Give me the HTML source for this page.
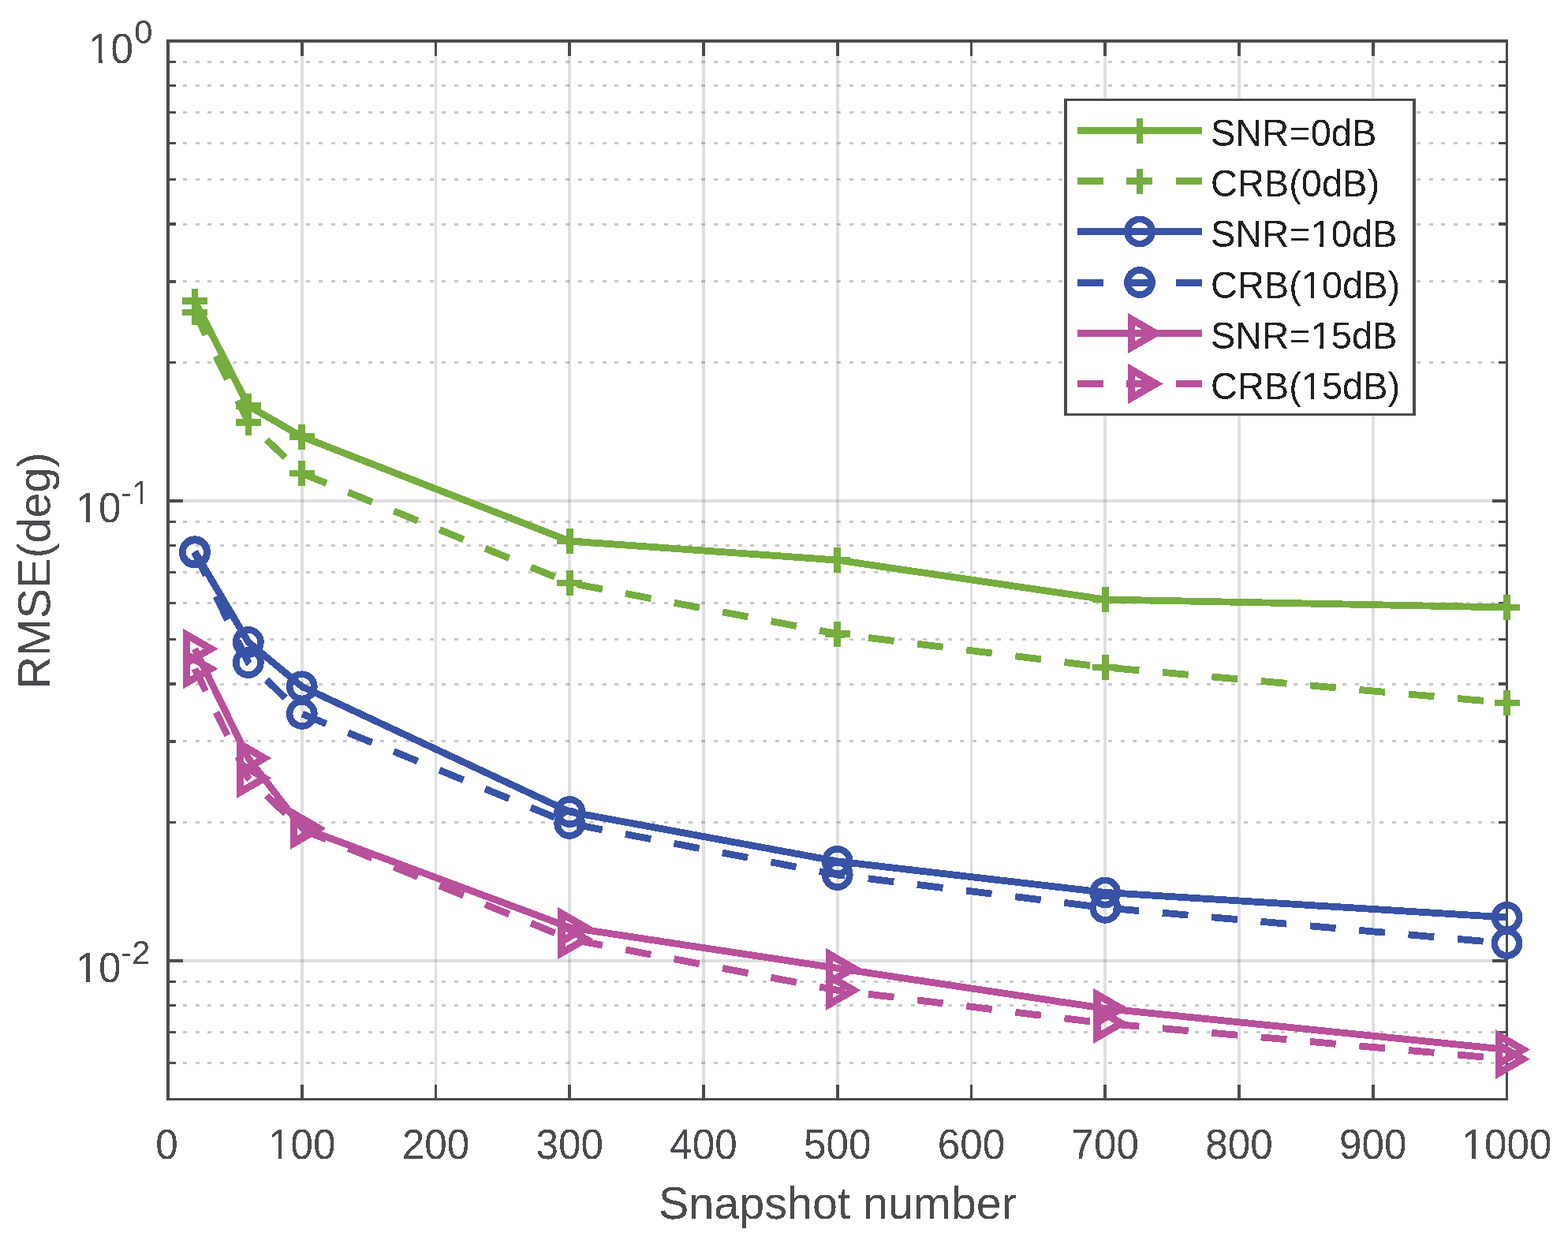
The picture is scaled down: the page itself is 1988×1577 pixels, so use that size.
<!DOCTYPE html><html><head><meta charset="utf-8"><title>RMSE vs Snapshot number</title>
<style>html,body{margin:0;padding:0;background:#fff;}body{width:1988px;height:1577px;overflow:hidden;}svg{display:block;}text{font-family:"Liberation Sans",Arial,Helvetica,sans-serif;}</style></head><body>
<svg width="1988" height="1577" viewBox="0 0 1988 1577">
<rect width="1988" height="1577" fill="#fff"/>
<defs><filter id="alias" x="0" y="0" width="1" height="1" color-interpolation-filters="sRGB"><feComponentTransfer><feFuncA type="discrete" tableValues="0 1"/></feComponentTransfer></filter></defs>
<g shape-rendering="crispEdges">
<rect x="380.80" y="54" width="3.9" height="1338" fill="#26282e" fill-opacity="0.15"/>
<rect x="550.55" y="54" width="3.9" height="1338" fill="#26282e" fill-opacity="0.15"/>
<rect x="720.30" y="54" width="3.9" height="1338" fill="#26282e" fill-opacity="0.15"/>
<rect x="890.05" y="54" width="3.9" height="1338" fill="#26282e" fill-opacity="0.15"/>
<rect x="1059.80" y="54" width="3.9" height="1338" fill="#26282e" fill-opacity="0.15"/>
<rect x="1229.55" y="54" width="3.9" height="1338" fill="#26282e" fill-opacity="0.15"/>
<rect x="1399.30" y="54" width="3.9" height="1338" fill="#26282e" fill-opacity="0.15"/>
<rect x="1569.05" y="54" width="3.9" height="1338" fill="#26282e" fill-opacity="0.15"/>
<rect x="1738.80" y="54" width="3.9" height="1338" fill="#26282e" fill-opacity="0.15"/>
<rect x="215" y="633.25" width="1694" height="3.5" fill="#26282e" fill-opacity="0.15"/>
<rect x="215" y="1216.25" width="1694" height="3.5" fill="#26282e" fill-opacity="0.15"/>
</g>
<g stroke="#26282e" stroke-opacity="0.25" stroke-width="3" stroke-dasharray="5 10.64" fill="none" shape-rendering="crispEdges">
<line x1="216.4" y1="459.50" x2="1909" y2="459.50"/>
<line x1="216.4" y1="356.84" x2="1909" y2="356.84"/>
<line x1="216.4" y1="284.00" x2="1909" y2="284.00"/>
<line x1="216.4" y1="227.50" x2="1909" y2="227.50"/>
<line x1="216.4" y1="181.34" x2="1909" y2="181.34"/>
<line x1="216.4" y1="142.31" x2="1909" y2="142.31"/>
<line x1="216.4" y1="108.50" x2="1909" y2="108.50"/>
<line x1="216.4" y1="78.68" x2="1909" y2="78.68"/>
<line x1="216.4" y1="1042.50" x2="1909" y2="1042.50"/>
<line x1="216.4" y1="939.84" x2="1909" y2="939.84"/>
<line x1="216.4" y1="867.00" x2="1909" y2="867.00"/>
<line x1="216.4" y1="810.50" x2="1909" y2="810.50"/>
<line x1="216.4" y1="764.34" x2="1909" y2="764.34"/>
<line x1="216.4" y1="725.31" x2="1909" y2="725.31"/>
<line x1="216.4" y1="691.50" x2="1909" y2="691.50"/>
<line x1="216.4" y1="661.68" x2="1909" y2="661.68"/>
<line x1="216.4" y1="1393.50" x2="1909" y2="1393.50"/>
<line x1="216.4" y1="1347.34" x2="1909" y2="1347.34"/>
<line x1="216.4" y1="1308.31" x2="1909" y2="1308.31"/>
<line x1="216.4" y1="1274.50" x2="1909" y2="1274.50"/>
<line x1="216.4" y1="1244.68" x2="1909" y2="1244.68"/>
</g>
<g fill="#4a4b4e" shape-rendering="crispEdges">
<rect x="380.85" y="54" width="3.8" height="17"/>
<rect x="380.85" y="1375" width="3.8" height="17"/>
<rect x="550.60" y="54" width="3.8" height="17"/>
<rect x="550.60" y="1375" width="3.8" height="17"/>
<rect x="720.35" y="54" width="3.8" height="17"/>
<rect x="720.35" y="1375" width="3.8" height="17"/>
<rect x="890.10" y="54" width="3.8" height="17"/>
<rect x="890.10" y="1375" width="3.8" height="17"/>
<rect x="1059.85" y="54" width="3.8" height="17"/>
<rect x="1059.85" y="1375" width="3.8" height="17"/>
<rect x="1229.60" y="54" width="3.8" height="17"/>
<rect x="1229.60" y="1375" width="3.8" height="17"/>
<rect x="1399.35" y="54" width="3.8" height="17"/>
<rect x="1399.35" y="1375" width="3.8" height="17"/>
<rect x="1569.10" y="54" width="3.8" height="17"/>
<rect x="1569.10" y="1375" width="3.8" height="17"/>
<rect x="1738.85" y="54" width="3.8" height="17"/>
<rect x="1738.85" y="1375" width="3.8" height="17"/>
<rect x="215" y="633.25" width="17" height="3.5"/>
<rect x="1892" y="633.25" width="17" height="3.5"/>
<rect x="215" y="1216.25" width="17" height="3.5"/>
<rect x="1892" y="1216.25" width="17" height="3.5"/>
<rect x="215" y="457.75" width="8" height="3.5"/>
<rect x="1900" y="457.75" width="9" height="3.5"/>
<rect x="215" y="355.09" width="8" height="3.5"/>
<rect x="1900" y="355.09" width="9" height="3.5"/>
<rect x="215" y="282.25" width="8" height="3.5"/>
<rect x="1900" y="282.25" width="9" height="3.5"/>
<rect x="215" y="225.75" width="8" height="3.5"/>
<rect x="1900" y="225.75" width="9" height="3.5"/>
<rect x="215" y="179.59" width="8" height="3.5"/>
<rect x="1900" y="179.59" width="9" height="3.5"/>
<rect x="215" y="140.56" width="8" height="3.5"/>
<rect x="1900" y="140.56" width="9" height="3.5"/>
<rect x="215" y="106.75" width="8" height="3.5"/>
<rect x="1900" y="106.75" width="9" height="3.5"/>
<rect x="215" y="76.93" width="8" height="3.5"/>
<rect x="1900" y="76.93" width="9" height="3.5"/>
<rect x="215" y="1040.75" width="8" height="3.5"/>
<rect x="1900" y="1040.75" width="9" height="3.5"/>
<rect x="215" y="938.09" width="8" height="3.5"/>
<rect x="1900" y="938.09" width="9" height="3.5"/>
<rect x="215" y="865.25" width="8" height="3.5"/>
<rect x="1900" y="865.25" width="9" height="3.5"/>
<rect x="215" y="808.75" width="8" height="3.5"/>
<rect x="1900" y="808.75" width="9" height="3.5"/>
<rect x="215" y="762.59" width="8" height="3.5"/>
<rect x="1900" y="762.59" width="9" height="3.5"/>
<rect x="215" y="723.56" width="8" height="3.5"/>
<rect x="1900" y="723.56" width="9" height="3.5"/>
<rect x="215" y="689.75" width="8" height="3.5"/>
<rect x="1900" y="689.75" width="9" height="3.5"/>
<rect x="215" y="659.93" width="8" height="3.5"/>
<rect x="1900" y="659.93" width="9" height="3.5"/>
<rect x="215" y="1391.75" width="8" height="3.5"/>
<rect x="1900" y="1391.75" width="9" height="3.5"/>
<rect x="215" y="1345.59" width="8" height="3.5"/>
<rect x="1900" y="1345.59" width="9" height="3.5"/>
<rect x="215" y="1306.56" width="8" height="3.5"/>
<rect x="1900" y="1306.56" width="9" height="3.5"/>
<rect x="215" y="1272.75" width="8" height="3.5"/>
<rect x="1900" y="1272.75" width="9" height="3.5"/>
<rect x="215" y="1242.93" width="8" height="3.5"/>
<rect x="1900" y="1242.93" width="9" height="3.5"/>
<rect x="211" y="50" width="1701" height="4"/>
<rect x="211" y="1392" width="1701" height="3"/>
<rect x="211" y="50" width="4" height="1345"/>
<rect x="1909" y="50" width="3" height="1345"/>
</g>
<g shape-rendering="crispEdges">
<polyline points="246.95,381.50 314.85,514.50 382.75,553.50 722.25,686.00 1061.75,710.00 1401.25,760.00 1910.50,770.00" fill="none" stroke="#75ad3f" stroke-width="8.8" stroke-linejoin="bevel" stroke-linecap="butt"/>
<path d="M230.95 377.20h32.00v8.60h-32.00zM242.65 365.50h8.60v32.00h-8.60z" fill="#75ad3f"/>
<path d="M298.85 510.20h32.00v8.60h-32.00zM310.55 498.50h8.60v32.00h-8.60z" fill="#75ad3f"/>
<path d="M366.75 549.20h32.00v8.60h-32.00zM378.45 537.50h8.60v32.00h-8.60z" fill="#75ad3f"/>
<path d="M706.25 681.70h32.00v8.60h-32.00zM717.95 670.00h8.60v32.00h-8.60z" fill="#75ad3f"/>
<path d="M1045.75 705.70h32.00v8.60h-32.00zM1057.45 694.00h8.60v32.00h-8.60z" fill="#75ad3f"/>
<path d="M1385.25 755.70h32.00v8.60h-32.00zM1396.95 744.00h8.60v32.00h-8.60z" fill="#75ad3f"/>
<path d="M1894.50 765.70h32.00v8.60h-32.00zM1906.20 754.00h8.60v32.00h-8.60z" fill="#75ad3f"/>
<polyline points="246.95,396.00 314.85,535.50 382.75,600.00 722.25,739.00 1061.75,803.50 1401.25,846.00 1910.50,891.00" fill="none" stroke="#75ad3f" stroke-width="8.8" stroke-linejoin="bevel" stroke-linecap="butt" stroke-dasharray="32.8 29.8" stroke-dashoffset="0.8"/>
<path d="M230.95 391.70h32.00v8.60h-32.00zM242.65 380.00h8.60v32.00h-8.60z" fill="#75ad3f"/>
<path d="M298.85 531.20h32.00v8.60h-32.00zM310.55 519.50h8.60v32.00h-8.60z" fill="#75ad3f"/>
<path d="M366.75 595.70h32.00v8.60h-32.00zM378.45 584.00h8.60v32.00h-8.60z" fill="#75ad3f"/>
<path d="M706.25 734.70h32.00v8.60h-32.00zM717.95 723.00h8.60v32.00h-8.60z" fill="#75ad3f"/>
<path d="M1045.75 799.20h32.00v8.60h-32.00zM1057.45 787.50h8.60v32.00h-8.60z" fill="#75ad3f"/>
<path d="M1385.25 841.70h32.00v8.60h-32.00zM1396.95 830.00h8.60v32.00h-8.60z" fill="#75ad3f"/>
<path d="M1894.50 886.70h32.00v8.60h-32.00zM1906.20 875.00h8.60v32.00h-8.60z" fill="#75ad3f"/>
<polyline points="246.95,699.20 314.85,814.00 382.75,870.30 722.25,1029.10 1061.75,1091.90 1401.25,1131.40 1910.50,1163.00" fill="none" stroke="#3853a5" stroke-width="8.8" stroke-linejoin="bevel" stroke-linecap="butt"/>
<circle cx="246.95" cy="699.20" r="15.6" fill="none" stroke="#3853a5" stroke-width="8.6"/>
<circle cx="314.85" cy="814.00" r="15.6" fill="none" stroke="#3853a5" stroke-width="8.6"/>
<circle cx="382.75" cy="870.30" r="15.6" fill="none" stroke="#3853a5" stroke-width="8.6"/>
<circle cx="722.25" cy="1029.10" r="15.6" fill="none" stroke="#3853a5" stroke-width="8.6"/>
<circle cx="1061.75" cy="1091.90" r="15.6" fill="none" stroke="#3853a5" stroke-width="8.6"/>
<circle cx="1401.25" cy="1131.40" r="15.6" fill="none" stroke="#3853a5" stroke-width="8.6"/>
<circle cx="1910.50" cy="1163.00" r="15.6" fill="none" stroke="#3853a5" stroke-width="8.6"/>
<polyline points="246.95,700.60 314.85,840.00 382.75,904.90 722.25,1043.90 1061.75,1109.00 1401.25,1150.80 1910.50,1195.90" fill="none" stroke="#3853a5" stroke-width="8.8" stroke-linejoin="bevel" stroke-linecap="butt" stroke-dasharray="32.8 29.8" stroke-dashoffset="0.8"/>
<circle cx="246.95" cy="700.60" r="15.6" fill="none" stroke="#3853a5" stroke-width="8.6"/>
<circle cx="314.85" cy="840.00" r="15.6" fill="none" stroke="#3853a5" stroke-width="8.6"/>
<circle cx="382.75" cy="904.90" r="15.6" fill="none" stroke="#3853a5" stroke-width="8.6"/>
<circle cx="722.25" cy="1043.90" r="15.6" fill="none" stroke="#3853a5" stroke-width="8.6"/>
<circle cx="1061.75" cy="1109.00" r="15.6" fill="none" stroke="#3853a5" stroke-width="8.6"/>
<circle cx="1401.25" cy="1150.80" r="15.6" fill="none" stroke="#3853a5" stroke-width="8.6"/>
<circle cx="1910.50" cy="1195.90" r="15.6" fill="none" stroke="#3853a5" stroke-width="8.6"/>
<polyline points="246.95,822.50 314.85,961.10 382.75,1049.30 722.25,1175.70 1061.75,1227.40 1401.25,1278.50 1910.50,1330.50" fill="none" stroke="#b8509c" stroke-width="8.8" stroke-linejoin="bevel" stroke-linecap="butt"/>
<polygon points="267.30,822.50 236.77,804.88 236.77,840.12" fill="none" stroke="#b8509c" stroke-width="9.2" stroke-linejoin="miter" stroke-miterlimit="10"/>
<polygon points="335.20,961.10 304.68,943.48 304.68,978.72" fill="none" stroke="#b8509c" stroke-width="9.2" stroke-linejoin="miter" stroke-miterlimit="10"/>
<polygon points="403.10,1049.30 372.57,1031.68 372.57,1066.92" fill="none" stroke="#b8509c" stroke-width="9.2" stroke-linejoin="miter" stroke-miterlimit="10"/>
<polygon points="742.60,1175.70 712.08,1158.08 712.08,1193.32" fill="none" stroke="#b8509c" stroke-width="9.2" stroke-linejoin="miter" stroke-miterlimit="10"/>
<polygon points="1082.10,1227.40 1051.58,1209.78 1051.58,1245.02" fill="none" stroke="#b8509c" stroke-width="9.2" stroke-linejoin="miter" stroke-miterlimit="10"/>
<polygon points="1421.60,1278.50 1391.08,1260.88 1391.08,1296.12" fill="none" stroke="#b8509c" stroke-width="9.2" stroke-linejoin="miter" stroke-miterlimit="10"/>
<polygon points="1930.85,1330.50 1900.33,1312.88 1900.33,1348.12" fill="none" stroke="#b8509c" stroke-width="9.2" stroke-linejoin="miter" stroke-miterlimit="10"/>
<polyline points="246.95,847.80 314.85,986.40 382.75,1051.30 722.25,1190.40 1061.75,1255.30 1401.25,1297.30 1910.50,1342.60" fill="none" stroke="#b8509c" stroke-width="8.8" stroke-linejoin="bevel" stroke-linecap="butt" stroke-dasharray="32.8 29.8" stroke-dashoffset="1.3"/>
<polygon points="267.30,847.80 236.77,830.18 236.77,865.42" fill="none" stroke="#b8509c" stroke-width="9.2" stroke-linejoin="miter" stroke-miterlimit="10"/>
<polygon points="335.20,986.40 304.68,968.78 304.68,1004.02" fill="none" stroke="#b8509c" stroke-width="9.2" stroke-linejoin="miter" stroke-miterlimit="10"/>
<polygon points="403.10,1051.30 372.57,1033.68 372.57,1068.92" fill="none" stroke="#b8509c" stroke-width="9.2" stroke-linejoin="miter" stroke-miterlimit="10"/>
<polygon points="742.60,1190.40 712.08,1172.78 712.08,1208.02" fill="none" stroke="#b8509c" stroke-width="9.2" stroke-linejoin="miter" stroke-miterlimit="10"/>
<polygon points="1082.10,1255.30 1051.58,1237.68 1051.58,1272.92" fill="none" stroke="#b8509c" stroke-width="9.2" stroke-linejoin="miter" stroke-miterlimit="10"/>
<polygon points="1421.60,1297.30 1391.08,1279.68 1391.08,1314.92" fill="none" stroke="#b8509c" stroke-width="9.2" stroke-linejoin="miter" stroke-miterlimit="10"/>
<polygon points="1930.85,1342.60 1900.33,1324.98 1900.33,1360.22" fill="none" stroke="#b8509c" stroke-width="9.2" stroke-linejoin="miter" stroke-miterlimit="10"/>
</g>
<rect x="1349" y="125" width="446" height="402" fill="#fff"/>
<path shape-rendering="crispEdges" fill="#4a4b4e" d="M1349 125H1795V128H1349Z M1349 524H1795V527H1349Z M1349 125H1353V527H1349Z M1791 125H1795V527H1791Z"/>
<g shape-rendering="crispEdges">
<line x1="1366" y1="165.5" x2="1524" y2="165.5" stroke="#75ad3f" stroke-width="9"/>
<path d="M1429.00 161.20h32.00v8.60h-32.00zM1440.70 149.50h8.60v32.00h-8.60z" fill="#75ad3f"/>
<line x1="1366" y1="229.5" x2="1524" y2="229.5" stroke="#75ad3f" stroke-width="9" stroke-dasharray="33 29.45"/>
<path d="M1429.00 225.20h32.00v8.60h-32.00zM1440.70 213.50h8.60v32.00h-8.60z" fill="#75ad3f"/>
<line x1="1366" y1="293.5" x2="1524" y2="293.5" stroke="#3853a5" stroke-width="9"/>
<circle cx="1445.00" cy="293.50" r="15.6" fill="none" stroke="#3853a5" stroke-width="8.6"/>
<line x1="1366" y1="358.0" x2="1524" y2="358.0" stroke="#3853a5" stroke-width="9" stroke-dasharray="33 29.45"/>
<circle cx="1445.00" cy="358.00" r="15.6" fill="none" stroke="#3853a5" stroke-width="8.6"/>
<line x1="1366" y1="422.5" x2="1524" y2="422.5" stroke="#b8509c" stroke-width="9"/>
<polygon points="1465.35,422.50 1434.83,404.88 1434.83,440.12" fill="none" stroke="#b8509c" stroke-width="9.2" stroke-linejoin="miter" stroke-miterlimit="10"/>
<line x1="1366" y1="486.5" x2="1524" y2="486.5" stroke="#b8509c" stroke-width="9" stroke-dasharray="33 29.45"/>
<polygon points="1465.35,486.50 1434.83,468.88 1434.83,504.12" fill="none" stroke="#b8509c" stroke-width="9.2" stroke-linejoin="miter" stroke-miterlimit="10"/>
</g>
<g filter="url(#alias)">
<g transform="translate(197.26 1469.00) scale(1 1.04)"><text x="0" y="0" font-size="51.2" fill="#4a4b4e">0</text></g>
<g transform="translate(340.04 1469.00) scale(1 1.04)"><clipPath id="c5"><path clip-rule="evenodd" d="M-20 -61.4H105.4V25.6H-20ZM2.90 -4.73H12.96V0.90H2.90ZM16.96 -4.73H26.98V0.90H16.96Z"/></clipPath><text x="0" y="0" font-size="51.2" fill="#4a4b4e" clip-path="url(#c5)">100</text></g>
<g transform="translate(509.79 1469.00) scale(1 1.04)"><text x="0" y="0" font-size="51.2" fill="#4a4b4e">200</text></g>
<g transform="translate(679.54 1469.00) scale(1 1.04)"><text x="0" y="0" font-size="51.2" fill="#4a4b4e">300</text></g>
<g transform="translate(849.29 1469.00) scale(1 1.04)"><text x="0" y="0" font-size="51.2" fill="#4a4b4e">400</text></g>
<g transform="translate(1019.04 1469.00) scale(1 1.04)"><text x="0" y="0" font-size="51.2" fill="#4a4b4e">500</text></g>
<g transform="translate(1188.79 1469.00) scale(1 1.04)"><text x="0" y="0" font-size="51.2" fill="#4a4b4e">600</text></g>
<g transform="translate(1358.54 1469.00) scale(1 1.04)"><text x="0" y="0" font-size="51.2" fill="#4a4b4e">700</text></g>
<g transform="translate(1528.29 1469.00) scale(1 1.04)"><text x="0" y="0" font-size="51.2" fill="#4a4b4e">800</text></g>
<g transform="translate(1698.04 1469.00) scale(1 1.04)"><text x="0" y="0" font-size="51.2" fill="#4a4b4e">900</text></g>
<g transform="translate(1853.55 1469.00) scale(1 1.04)"><clipPath id="c6"><path clip-rule="evenodd" d="M-20 -61.4H133.9V25.6H-20ZM2.90 -4.73H12.45V0.90H2.90ZM17.45 -4.73H26.98V0.90H17.45Z"/></clipPath><text x="0" y="0" font-size="51.2" fill="#4a4b4e" clip-path="url(#c6)">1000</text></g>
<g transform="translate(112.10 80.00) scale(1 1.04)"><clipPath id="c7"><path clip-rule="evenodd" d="M-20 -61.4H77.0V25.6H-20ZM2.90 -4.73H12.90V0.90H2.90ZM17.90 -4.73H26.98V0.90H17.90Z"/></clipPath><text x="0" y="0" font-size="51.2" fill="#4a4b4e" clip-path="url(#c7)">10</text></g>
<g transform="translate(170.20 55.40) scale(1 1.04)"><text x="0" y="0" font-size="41.6" fill="#4a4b4e">0</text></g>
<g transform="translate(96.50 661.70) scale(1 1.04)"><clipPath id="c8"><path clip-rule="evenodd" d="M-20 -61.4H77.0V25.6H-20ZM2.90 -4.73H12.50V0.90H2.90ZM17.50 -4.73H26.98V0.90H17.50Z"/></clipPath><text x="0" y="0" font-size="51.2" fill="#4a4b4e" clip-path="url(#c8)">10</text></g>
<g transform="translate(153.30 638.90) scale(1 1.04)"><clipPath id="c9"><path clip-rule="evenodd" d="M-20 -49.9H57.0V20.8H-20ZM16.02 -4.01H24.70V0.90H16.02ZM27.70 -4.01H35.96V0.90H27.70Z"/></clipPath><text x="0" y="0" font-size="41.6" fill="#4a4b4e" clip-path="url(#c9)">-1</text></g>
<g transform="translate(96.50 1244.90) scale(1 1.04)"><clipPath id="c10"><path clip-rule="evenodd" d="M-20 -61.4H77.0V25.6H-20ZM2.90 -4.73H12.50V0.90H2.90ZM17.50 -4.73H26.98V0.90H17.50Z"/></clipPath><text x="0" y="0" font-size="51.2" fill="#4a4b4e" clip-path="url(#c10)">10</text></g>
<g transform="translate(153.30 1221.90) scale(1 1.04)"><text x="0" y="0" font-size="41.6" fill="#4a4b4e">-2</text></g>
<g transform="translate(834.95 1545.00) scale(1 1.0)"><text x="0" y="0" font-size="57.5" fill="#4a4b4e">Snapshot number</text></g>
<g transform="translate(62.9 723.5) rotate(-90) scale(1 1.01)"><text x="0" y="0" font-size="57.5" fill="#4a4b4e" text-anchor="middle">RMSE(deg)</text></g>
<g transform="translate(1535.00 185.20) scale(1 1.04)"><text x="0" y="0" font-size="47" fill="#231f20">SNR=0dB</text></g>
<g transform="translate(1535.00 249.20) scale(1 1.04)"><text x="0" y="0" font-size="47" fill="#231f20">CRB(0dB)</text></g>
<g transform="translate(1535.00 313.20) scale(1 1.04)"><clipPath id="c1"><path clip-rule="evenodd" d="M-20 -56.4H256.4V23.5H-20ZM129.26 -4.41H138.00V0.90H129.26ZM143.00 -4.41H151.52V0.90H143.00Z"/></clipPath><text x="0" y="0" font-size="47" fill="#231f20" clip-path="url(#c1)">SNR=10dB</text></g>
<g transform="translate(1535.00 377.70) scale(1 1.04)"><clipPath id="c2"><path clip-rule="evenodd" d="M-20 -56.4H260.3V23.5H-20ZM117.46 -4.41H127.00V0.90H117.46ZM131.00 -4.41H139.73V0.90H131.00Z"/></clipPath><text x="0" y="0" font-size="47" fill="#231f20" clip-path="url(#c2)">CRB(10dB)</text></g>
<g transform="translate(1535.00 442.20) scale(1 1.04)"><clipPath id="c3"><path clip-rule="evenodd" d="M-20 -56.4H256.4V23.5H-20ZM129.26 -4.41H138.00V0.90H129.26ZM143.00 -4.41H151.52V0.90H143.00Z"/></clipPath><text x="0" y="0" font-size="47" fill="#231f20" clip-path="url(#c3)">SNR=15dB</text></g>
<g transform="translate(1535.00 506.20) scale(1 1.04)"><clipPath id="c4"><path clip-rule="evenodd" d="M-20 -56.4H260.3V23.5H-20ZM117.46 -4.41H127.00V0.90H117.46ZM131.00 -4.41H139.73V0.90H131.00Z"/></clipPath><text x="0" y="0" font-size="47" fill="#231f20" clip-path="url(#c4)">CRB(15dB)</text></g>
</g>
</svg></body></html>
